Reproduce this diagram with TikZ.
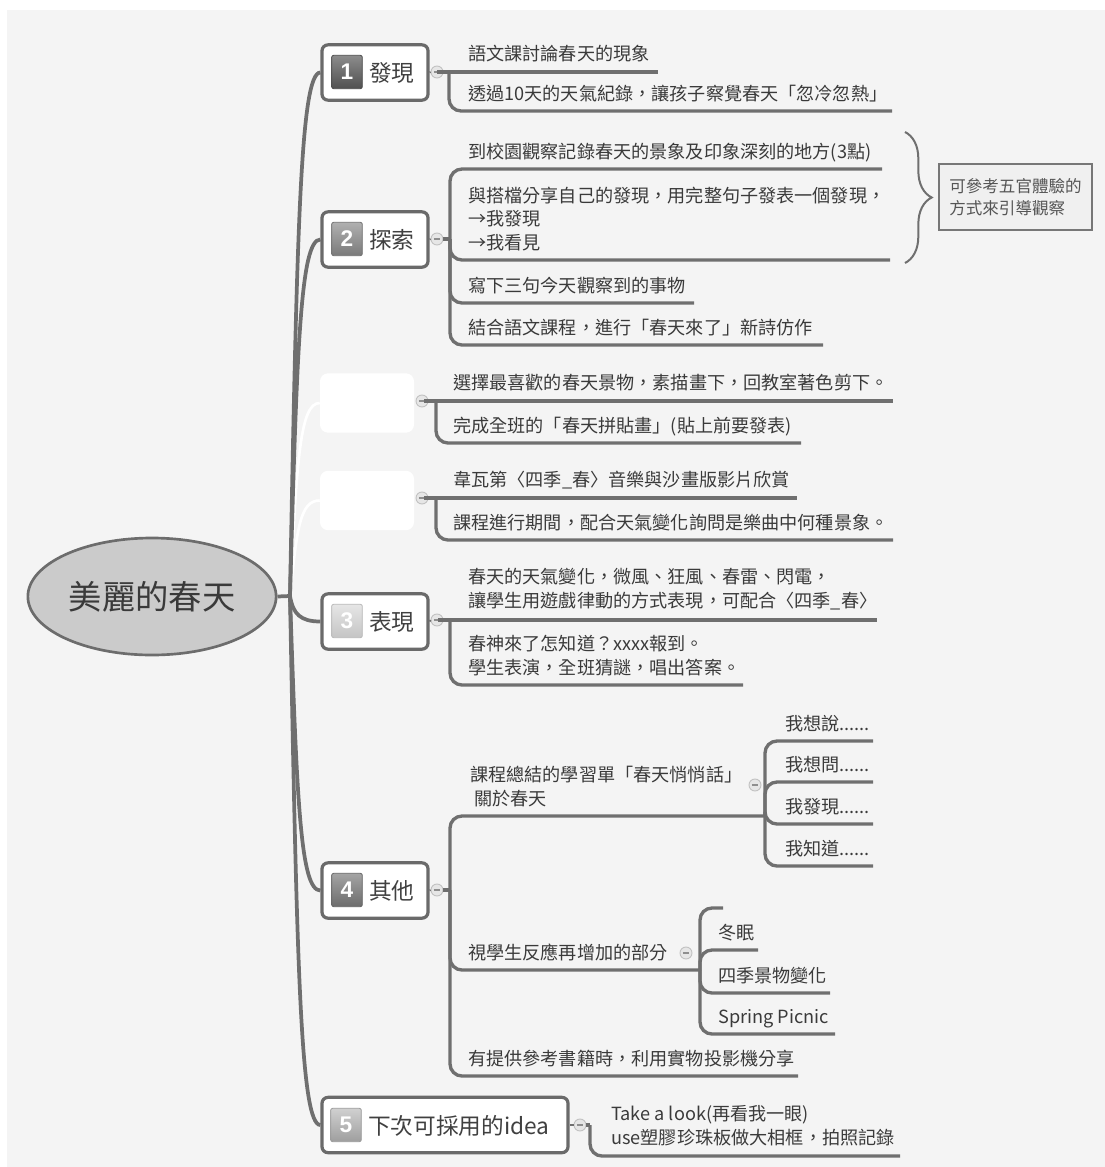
\documentclass[tikz,border=0pt]{standalone}
\usepackage{fontspec}
\setmainfont{Noto Sans CJK TC}[Script=CJK, Language=Chinese Traditional]
\newfontfamily\numfont{Liberation Sans}
\usetikzlibrary{decorations.pathreplacing,shapes.geometric}
\definecolor{bgc}{HTML}{F4F4F4}
\definecolor{lnc}{HTML}{6F6F6F}
\definecolor{boxc}{HTML}{6A6A6A}
\definecolor{txc}{HTML}{3A3A3A}
\definecolor{labc}{HTML}{404040}
\definecolor{ellf}{HTML}{CBCBCB}
\definecolor{ellc}{HTML}{6C6C6C}
\definecolor{colld}{HTML}{C2C2C2}
\definecolor{collf}{HTML}{E6E6E6}
\definecolor{collm}{HTML}{8E8E8E}
\definecolor{notec}{HTML}{777777}
\definecolor{notef}{HTML}{F0F0F0}
\definecolor{noteT}{HTML}{555555}
\definecolor{nat}{HTML}{8C8C8C}\definecolor{nab}{HTML}{505050}\definecolor{nad}{HTML}{4A4A4A}
\definecolor{nbt}{HTML}{B0B0B0}\definecolor{nbb}{HTML}{7A7A7A}\definecolor{nbd}{HTML}{707070}
\definecolor{nct}{HTML}{E6E6E6}\definecolor{ncb}{HTML}{C4C4C4}\definecolor{ncd}{HTML}{B8B8B8}
\definecolor{ndt}{HTML}{A4A4A4}\definecolor{ndb}{HTML}{6C6C6C}\definecolor{ndd}{HTML}{646464}
\definecolor{net}{HTML}{D0D0D0}\definecolor{neb}{HTML}{9E9E9E}\definecolor{ned}{HTML}{9A9A9A}
\begin{document}
\begin{tikzpicture}[x=0.75pt,y=-0.75pt,
  conn/.style={draw=lnc, line width=2.8pt},
  wconn/.style={draw=white, line width=2pt},
  subl/.style={draw=lnc, line width=2.5pt, rounded corners=9pt},
  stub/.style={draw=lnc, line width=1.4pt},
  topicbox/.style={draw=boxc, line width=2.4pt, fill=white, rounded corners=4.5pt, minimum height=41.5pt, inner sep=0},
  emptybox/.style={fill=white, rounded corners=6pt, inner sep=0, minimum width=70.5pt, minimum height=44.5pt},
  numsq/.style={rounded corners=1.5pt, minimum width=23pt, minimum height=25pt, inner sep=0, text=white, font=\numfont\bfseries\fontsize{17pt}{17pt}\selectfont, line width=0.6pt},
  lab/.style={font=\fontsize{17pt}{20pt}\selectfont, text=labc, inner sep=0, anchor=west},
  item/.style={font=\fontsize{13.6pt}{17.5pt}\selectfont, text=txc, inner sep=0, anchor=base west, align=left},
  coll/.style={circle, draw=colld, fill=collf, line width=0.7pt, minimum size=9pt, inner sep=0,
    path picture={\draw[collm, line width=0.8pt] ([xshift=-2.4pt]path picture bounding box.center) -- ([xshift=2.4pt]path picture bounding box.center);}}
]
\fill[white] (0,0) rectangle (1105,1167);
\useasboundingbox (0,0) rectangle (1105,1167);
\fill[bgc] (7,10) rectangle (1105,1167);

% root
\node[ellipse, draw=ellc, line width=2pt, fill=ellf, minimum width=184.5pt, minimum height=87.75pt,
  font=\fontsize{25pt}{25pt}\selectfont, text=txc] (root) at (152,596.5) {美麗的春天};
\coordinate (hub) at (290,596);

% main topic boxes
\node[topicbox, minimum width=79.5pt] (b1) at (375,72.5) {};
\node[topicbox, minimum width=79.5pt] (b2) at (375,239.5) {};
\node[emptybox] (e1) at (367,403) {};
\node[emptybox] (e2) at (367,500.5) {};
\node[topicbox, minimum width=79.5pt] (b3) at (375,621.5) {};
\node[topicbox, minimum width=79.5pt] (b4) at (375,890.5) {};
\node[topicbox, minimum width=184.5pt] (b5) at (445,1125) {};

\node[numsq, draw=nad, top color=nat, bottom color=nab] (n1) at (347,72) {1};
\node[numsq, draw=nbd, top color=nbt, bottom color=nbb] (n2) at (347,239) {2};
\node[numsq, draw=ncd, top color=nct, bottom color=ncb] (n3) at (347,621) {3};
\node[numsq, draw=ndd, top color=ndt, bottom color=ndb] (n4) at (347,890) {4};
\node[numsq, draw=ned, top color=net, bottom color=neb] (n5) at (346,1125) {5};

\node[lab] (l1) at (369,73) {發現};
\node[lab] (l2) at (369,240) {探索};
\node[lab] (l3) at (369,622) {表現};
\node[lab] (l4) at (369,891) {其他};
\node[lab] (l5) at (368,1126) {下次可採用的idea};

% collapse circles
\node[coll] (c1) at (437,72) {};
\node[coll] (c2) at (437,239) {};
\node[coll] (c3) at (422,401) {};
\node[coll] (c4) at (422,498) {};
\node[coll] (c5) at (437,620) {};
\node[coll] (c6) at (437,890) {};
\node[coll] (c7) at (580,1125) {};
\node[coll] (c61) at (755,785) {};
\node[coll] (c62) at (686,953) {};

% hub connectors
\draw[wconn] (hub) .. controls +(7,-135) and +(-20,0) .. (e1.west);
\draw[wconn] (hub) .. controls +(7,-67) and +(-20,0) .. (e2.west);
\draw[conn] (root.east) -- (hub);
\draw[conn] (hub) .. controls +(7,-367) and +(-20,0) .. (b1.west);
\draw[conn] (hub) .. controls +(7,-250) and +(-20,0) .. (b2.west);
\draw[conn] (hub) .. controls +(3,18) and +(-20,0) .. (b3.west);
\draw[conn] (hub) .. controls +(7,206) and +(-20,0) .. (b4.west);
\draw[conn] (hub) .. controls +(7,370) and +(-20,0) .. (b5.west);

% stubs box -> circle
\draw[stub] (b1.east) -- (c1.west);
\draw[stub] (b2.east) -- (c2.west);
\draw[stub] (b3.east) -- (c5.west);
\draw[stub] (b4.east) -- (c6.west);
\draw[stub] (b5.east) -- (c7.west);

% spine coordinates and underline ends
\coordinate (s1) at (449,72);
\coordinate (u11) at (658,72);
\coordinate (u12) at (892,111);
\coordinate (s2) at (450,239);
\coordinate (u21) at (882,169);
\coordinate (u22) at (890,260);
\coordinate (u23) at (694,303);
\coordinate (u24) at (823,345);
\coordinate (s3) at (436,401);
\coordinate (u31) at (893,401);
\coordinate (u32) at (801,443);
\coordinate (s4) at (436,498);
\coordinate (u41) at (797,498);
\coordinate (u42) at (893,540);
\coordinate (s5) at (450,620);
\coordinate (u51) at (877,620);
\coordinate (u52) at (743,685);
\coordinate (s6) at (450,890);
\coordinate (s61) at (765,816);
\coordinate (u611) at (873,741);
\coordinate (u612) at (873,782);
\coordinate (u613) at (873,824);
\coordinate (u614) at (873,866);
\coordinate (s62) at (700,970);
\coordinate (u620) at (723,908);
\coordinate (u621) at (758,950);
\coordinate (u622) at (830,993);
\coordinate (u623) at (835,1034);
\coordinate (u63) at (798,1076);
\coordinate (s7) at (590,1125);
\coordinate (u71) at (900,1156);

% branch 1
\draw[subl] (c1.east) -- (s1) -- (u11);
\draw[subl] (s1) |- (u12);
% branch 2
\draw[subl] (c2.east) -- (s2);
\draw[subl] (s2) |- (u21);
\draw[subl] (s2) |- (u22);
\draw[subl] (s2) |- (u23);
\draw[subl] (s2) |- (u24);
% empty branches
\draw[subl] (c3.east) -- (s3) -- (u31);
\draw[subl] (s3) |- (u32);
\draw[subl] (c4.east) -- (s4) -- (u41);
\draw[subl] (s4) |- (u42);
% branch 3
\draw[subl] (c5.east) -- (s5) -- (u51);
\draw[subl] (s5) |- (u52);
% branch 4
\draw[subl] (c6.east) -- (s6);
\draw[subl] (s6) |- (s61);
\draw[subl] (s61) |- (u611);
\draw[subl] (s61) |- (u612);
\draw[subl] (s61) |- (u613);
\draw[subl] (s61) |- (u614);
\draw[subl] (s6) |- (s62);
\draw[subl] (s62) |- (u620);
\draw[subl] (s62) |- (u621);
\draw[subl] (s62) |- (u622);
\draw[subl] (s62) |- (u623);
\draw[subl] (s6) |- (u63);
% branch 5
\draw[subl] (c7.east) -- (s7);
\draw[subl] (s7) |- (u71);

% texts (multi-line nodes: base = last line)
\node[item] (t11) at (468,60) {語文課討論春天的現象};
\node[item] (t12) at (468,100) {透過10天的天氣紀錄，讓孩子察覺春天「忽冷忽熱」};
\node[item] (t21) at (468,158) {到校園觀察記錄春天的景象及印象深刻的地方(3點)};
\node[item] (t22) at (468,249) {與搭檔分享自己的發現，用完整句子發表一個發現，\\→我發現\\→我看見};
\node[item] (t23) at (468,292) {寫下三句今天觀察到的事物};
\node[item] (t24) at (468,334) {結合語文課程，進行「春天來了」新詩仿作};
\node[item] (t31) at (453,389) {選擇最喜歡的春天景物，素描畫下，回教室著色剪下。};
\node[item] (t32) at (453,432) {完成全班的「春天拼貼畫」(貼上前要發表)};
\node[item] (t41) at (453,486) {韋瓦第〈四季\_春〉音樂與沙畫版影片欣賞};
\node[item] (t42) at (453,529) {課程進行期間，配合天氣變化詢問是樂曲中何種景象。};
\node[item] (t51) at (468,607) {春天的天氣變化，微風、狂風、春雷、閃電，\\讓學生用遊戲律動的方式表現，可配合〈四季\_春〉};
\node[item] (t52) at (468,674) {春神來了怎知道？xxxx報到。\\學生表演，全班猜謎，唱出答案。};
\node[item] (t61) at (470,805) {課程總結的學習單「春天悄悄話」\\\hspace*{3pt}關於春天};
\node[item] (t611) at (785,730) {我想說......};
\node[item] (t612) at (785,771) {我想問......};
\node[item] (t613) at (785,813) {我發現......};
\node[item] (t614) at (785,855) {我知道......};
\node[item] (t62) at (468,959) {視學生反應再增加的部分};
\node[item] (t621) at (718,939) {冬眠};
\node[item] (t622) at (718,982) {四季景物變化};
\node[item] (t623) at (718,1023) {Spring Picnic};
\node[item] (t63) at (468,1065) {有提供參考書籍時，利用實物投影機分享};
\node[item] (t71) at (611,1144) {Take a look(再看我一眼)\\use塑膠珍珠板做大相框，拍照記錄};

% brace and note
\coordinate (br1) at (905,132);
\coordinate (br2) at (905,263);
\draw[draw=lnc, line width=1.5pt, decorate, decoration={brace, amplitude=20pt}] (br1) -- (br2);
\node[draw=notec, line width=2.2pt, fill=notef, minimum width=114.75pt, minimum height=49.5pt, inner sep=0,
  align=left, text=noteT, font=\fontsize{12.4pt}{17pt}\selectfont] (note) at (1015.5,197) {可參考五官體驗的\\方式來引導觀察};
\end{tikzpicture}
\end{document}
